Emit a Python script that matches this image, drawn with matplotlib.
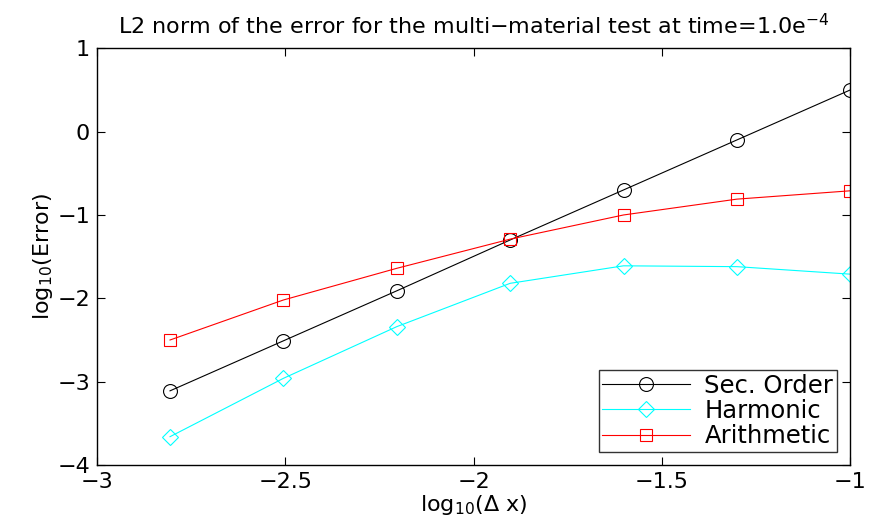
import numpy as np
import matplotlib.pyplot as plt
from matplotlib.ticker import FuncFormatter

plt.rcParams['font.family'] = ['DejaVu Sans']
plt.rcParams['mathtext.default'] = 'regular'

# log10 of the grid spacing (dx = 1/640 ... 1/10)
log_dx = np.log10([1/640, 1/320, 1/160, 1/80, 1/40, 1/20, 1/10])
sec_order = [-3.11, -2.51, -1.91, -1.30, -0.70, -0.10, 0.50]
harmonic = [-3.66, -2.96, -2.34, -1.82, -1.61, -1.62, -1.71]
arithmetic = [-2.50, -2.02, -1.64, -1.29, -1.00, -0.81, -0.71]

fig = plt.figure(figsize=(8.82, 5.19), dpi=100)
ax = fig.add_axes([0.110, 0.104, 0.854, 0.803])

ax.plot(log_dx, sec_order, color='k', lw=0.8, marker='o', ms=10,
        mfc='none', mec='k', mew=0.8, label='Sec. Order')
ax.plot(log_dx, harmonic, color='cyan', lw=0.8, marker='D', ms=8,
        mfc='none', mec='cyan', mew=0.8, label='Harmonic')
ax.plot(log_dx, arithmetic, color='red', lw=0.8, marker='s', ms=8,
        mfc='none', mec='red', mew=0.8, label='Arithmetic')

ax.set_xlim(-3, -1)
ax.set_ylim(-4, 1)
ax.set_xticks([-3, -2.5, -2, -1.5, -1])
ax.set_yticks([-4, -3, -2, -1, 0, 1])
fmt = FuncFormatter(lambda v, pos: f'{v:g}'.replace('-', '\u2212'))
ax.xaxis.set_major_formatter(fmt)
ax.yaxis.set_major_formatter(fmt)
ax.tick_params(direction='in', top=True, right=True, labelsize=16,
               length=6, width=0.8)
ax.tick_params(axis='x', pad=5)
ax.tick_params(axis='y', pad=5)
for s in ax.spines.values():
    s.set_linewidth(1.0)

ax.set_xlabel(r'log$_{10}$($\Delta$ x)', fontsize=16, labelpad=1)
ax.set_ylabel('log$_{10}$(Error)', fontsize=16, labelpad=2)
ax.set_title('L2 norm of the error for the multi\u2212material test at time=1.0e$^{-4}$',
             fontsize=16, pad=10)

leg = ax.legend(loc='lower right', fontsize=17.5, frameon=True, fancybox=False,
                edgecolor='k', borderpad=0.15, labelspacing=0.05,
                handlelength=3.6, handletextpad=0.6, borderaxespad=0.55)
leg.get_frame().set_linewidth(1.0)

fig.savefig('out.png', dpi=100)
